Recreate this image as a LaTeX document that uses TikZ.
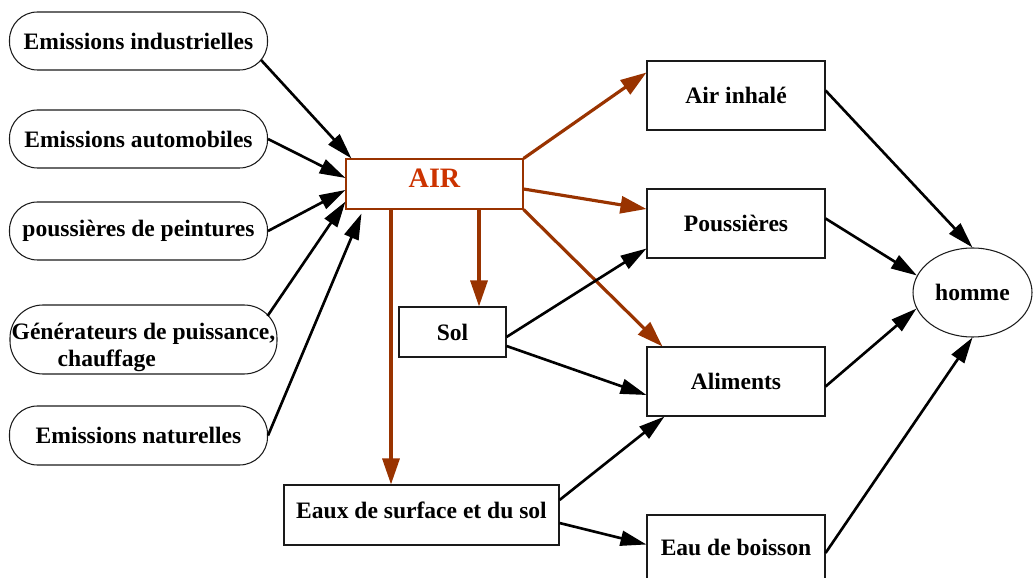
\documentclass[tikz,border=0pt]{standalone}
\usepackage{fontspec}
\setmainfont{Liberation Serif}
\usepackage{tikz}
\usetikzlibrary{positioning, arrows.meta, shapes.geometric}
\definecolor{inkB}{HTML}{1A1A1A}
\definecolor{airR}{HTML}{CC3300}
\definecolor{airL}{HTML}{993300}
\newcommand{\lblfont}{\bfseries\fontsize{13.4}{15.4}\selectfont}
\tikzset{
  src/.style={draw=inkB, line width=0.6pt, rounded corners=0.56cm, minimum width=5.16cm,
    minimum height=1.16cm, inner sep=0pt, font=\lblfont},
  box/.style={draw=inkB, line width=0.6pt, minimum width=3.56cm, minimum height=1.38cm,
    inner sep=0pt, font=\lblfont},
  arr/.style={-{Triangle[length=0.52cm,width=0.3cm]}, line width=1.5pt},
  arrA/.style={airL, -{Triangle[length=0.52cm,width=0.34cm]}, line width=1.8pt}
}

\begin{document}
\begin{tikzpicture}
\useasboundingbox (0,0) rectangle (20.68,-11.56);
% sources
\node[src] (ind) at (2.77,-0.82) {Emissions industrielles};
\node[src] (auto) at (2.77,-2.78) {Emissions automobiles};
\node[src] (peint) at (2.77,-4.62) {poussières de peintures};
\node[src, minimum width=5.34cm, minimum height=1.38cm, rounded corners=0.66cm, align=left] (gen) at (2.87,-6.79)
  {\rule{0pt}{0.64cm}Générateurs de puissance,\\\hspace*{0.92cm}chauffage};
\node[src, minimum height=1.18cm] (nat) at (2.77,-8.71) {Emissions naturelles};
% milieux
\node[draw=airL, line width=0.6pt, minimum width=3.54cm, minimum height=1cm, inner sep=0pt,
  text=airR, font=\bfseries\fontsize{16}{18}\selectfont, text depth=0.25cm] (air) at (8.69,-3.68) {AIR};
\node[box, minimum width=2.14cm, minimum height=1cm] (sol) at (9.05,-6.64) {Sol};
\node[box, minimum width=5.5cm, minimum height=1.2cm, text depth=0.2cm] (eaux) at (8.43,-10.30) {Eaux de surface et du sol};
% voies
\node[box] (inh) at (14.72,-1.91) {Air inhalé};
\node[box] (pous) at (14.72,-4.47) {Poussières};
\node[box] (alim) at (14.72,-7.63) {Aliments};
\node[box, text depth=0.1cm] (boi) at (14.72,-10.99) {Eau de boisson};
\node[draw=inkB, line width=0.6pt, ellipse, minimum width=2.38cm, minimum height=1.78cm, inner sep=0pt,
  font=\lblfont] (hom) at (19.45,-5.85) {homme};

% sources -> air
\draw[arr] ([shift={(-0.14,-0.38)}]ind.east) -- ([xshift=0.12cm]air.north west);
\draw[arr] (auto.east) -- ([yshift=0.12cm]air.west);
\draw[arr] (peint.east) -- ([yshift=-0.12cm]air.west);
\draw[arr] ([shift={(-0.2,0.47)}]gen.east) -- ([yshift=0.16cm]air.south west);
\draw[arr] (nat.east) -- ([shift={(0.32,-0.08)}]air.south west);

% air -> milieux et voies
\draw[arrA] (air.north east) -- ([yshift=0.46cm]inh.west);
\draw[arrA] ([yshift=-0.1cm]air.east) -- ([yshift=0.29cm]pous.west);
\draw[arrA] (air.south east) -- ([xshift=0.32cm]alim.north west);
\draw[arrA] ([xshift=0.53cm]sol.north |- air.south) -- ([xshift=0.53cm]sol.north);
\draw[arrA] ([xshift=-0.61cm]eaux.north |- air.south) -- ([xshift=-0.61cm]eaux.north);

% sol, eaux -> voies
\draw[arr] ([yshift=-0.1cm]sol.east) -- ([yshift=0.2cm]pous.south west);
\draw[arr] ([yshift=-0.28cm]sol.east) -- ([yshift=-0.27cm]alim.west);
\draw[arr] ([yshift=0.3cm]eaux.east) -- ([xshift=0.36cm]alim.south west);
\draw[arr] ([yshift=-0.16cm]eaux.east) -- ([yshift=0.1cm]boi.west);

% voies -> homme
\draw[arr] ([yshift=0.1cm]inh.east) -- (hom.north);
\draw[arr] ([yshift=0.1cm]pous.east) -- (hom.163);
\draw[arr] ([yshift=-0.1cm]alim.east) -- (hom.196);
\draw[arr] ([yshift=-0.07cm]boi.east) -- (hom.south);
\end{tikzpicture}
\end{document}
